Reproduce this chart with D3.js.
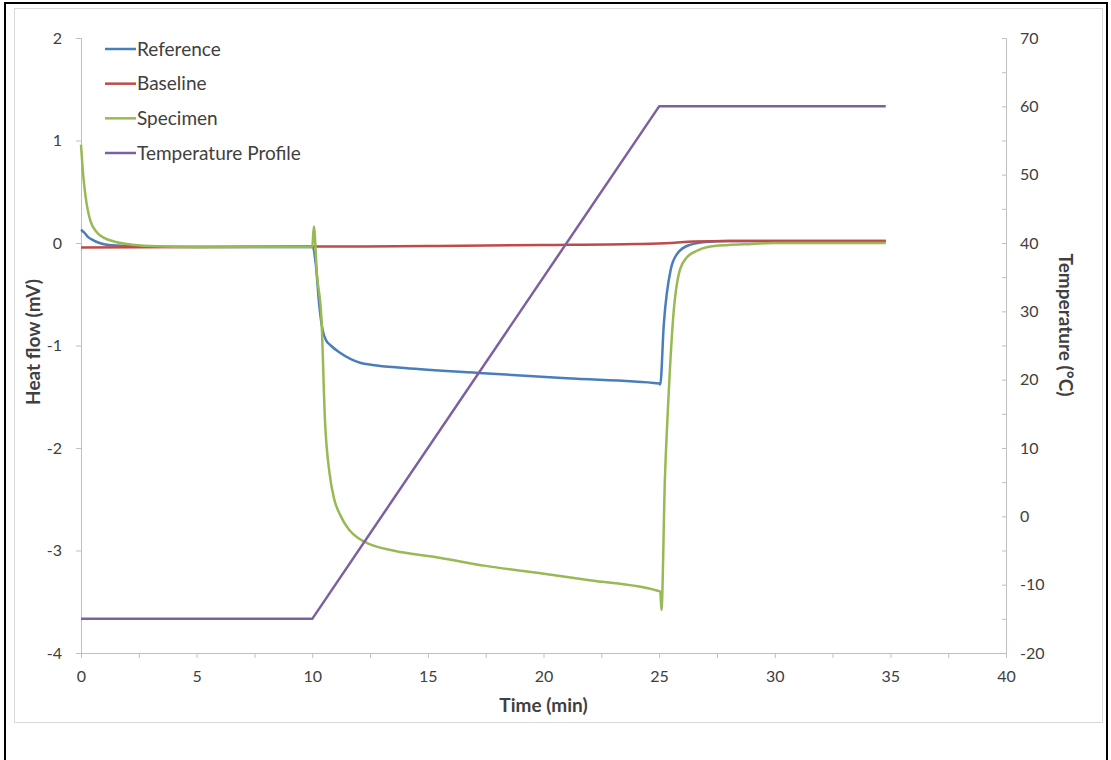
<!DOCTYPE html>
<html>
<head>
<meta charset="utf-8">
<script src="https://cdn.jsdelivr.net/npm/d3@7"></script>
<style>
  body { margin: 0; background: #fff; }
  svg text { font-family: "Lato", "Open Sans", sans-serif; fill: #404040; }
</style>
</head>
<body>
<svg id="chart" width="1111" height="760"></svg>
<script>
// Tempos (min) e valores
const refTime  = [0, 0.15, 0.3, 0.5, 0.8, 1.2, 2, 5, 10.0, 10.15, 10.3, 10.45, 10.6, 10.8, 11.2, 12.1, 12.6, 14.0, 17.4, 21.0, 25.0, 25.05, 25.2, 25.5, 25.8, 26.3, 27.0, 28.0, 34.8];
const refFlow  = [0.13, 0.1, 0.06, 0.03, 0.0, -0.02, -0.03, -0.04, -0.04, -0.2, -0.6, -0.85, -0.95, -1.0, -1.07, -1.17, -1.19, -1.22, -1.27, -1.32, -1.37, -1.38, -0.8, -0.26, -0.1, -0.02, 0.01, 0.02, 0.02];

const baseTime = [0, 5, 10, 15, 20, 24, 25.5, 26.5, 28, 34.8];
const baseFlow = [-0.045, -0.04, -0.035, -0.03, -0.02, -0.01, 0.0, 0.015, 0.02, 0.02];

const specTime = [0, 0.1, 0.2, 0.4, 0.7, 1.0, 1.5, 2.0, 3.0, 5.0, 8.0, 10.0, 10.07, 10.2, 10.4, 10.55, 10.75, 10.95, 11.2, 11.6, 12.0, 12.4, 13.5, 15.5, 17.5, 19.8, 22.0, 24.9, 25.05, 25.1, 25.25, 25.4, 25.6, 25.9, 26.2, 26.6, 27.1, 28.0, 29.0, 30.0, 34.8];
const specFlow = [0.96, 0.65, 0.45, 0.22, 0.1, 0.05, 0.01, -0.01, -0.03, -0.04, -0.04, -0.04, 0.16, -0.3, -0.75, -1.73, -2.25, -2.5, -2.65, -2.8, -2.88, -2.93, -3.0, -3.07, -3.15, -3.22, -3.29, -3.39, -3.4, -3.58, -2.3, -1.53, -0.75, -0.26, -0.14, -0.08, -0.04, -0.02, -0.01, 0, 0];

const tempTime = [0, 10, 25, 34.8];
const tempVal  = [-15, -15, 60, 60];

const seriesNames  = ["Reference", "Baseline", "Specimen", "Temperature Profile"];
const seriesColors = ["#4a7ebb", "#be4b48", "#98b954", "#7d60a0"];

const xTicks = d3.range(0, 41, 5);
const xMinorTicks = d3.range(0, 40.1, 2.5);
const yLeftTicks = d3.range(-4, 3, 1);
const yRightTicks = d3.range(-20, 71, 10);
const yRightMinor = d3.range(-20, 71, 5);

const svg = d3.select("#chart");
const fmt = d => String(d); // hífen comum, sem casas decimais

// Moldura externa e área do gráfico
svg.append("rect")
    .attr("x", 5).attr("y", 3).attr("width", 1102).attr("height", 800)
    .attr("fill", "none").attr("stroke", "#000").attr("stroke-width", 2);
svg.append("rect")
    .attr("x", 14.5).attr("y", 8.5).attr("width", 1088).attr("height", 714)
    .attr("fill", "#fff").attr("stroke", "#d9d9d9").attr("stroke-width", 1);

// Proporções da área de plotagem
const plot = { left: 81, right: 1006, top: 38, bottom: 653 };

const x = d3.scaleLinear().domain([0, 40]).range([plot.left, plot.right]);
const yL = d3.scaleLinear().domain([-4, 2]).range([plot.bottom, plot.top]);
const yR = d3.scaleLinear().domain([-20, 70]).range([plot.bottom, plot.top]);

const axisColor = "#bfbfbf";

// Eixo X
const gx = svg.append("g").attr("transform", `translate(0,${plot.bottom})`);
gx.call(d3.axisBottom(x).tickValues(xMinorTicks).tickSize(5).tickFormat(""));
gx.select(".domain").attr("stroke", axisColor);
gx.selectAll(".tick line").attr("stroke", axisColor);
gx.append("g").call(d3.axisBottom(x).tickValues(xTicks).tickSize(0).tickPadding(18).tickFormat(fmt))
    .call(g => g.select(".domain").remove())
    .selectAll("text")
        .style("font-size", "16px").style("font-family", "Lato, sans-serif").attr("fill", "#404040");

// Eixo Y esquerdo
const gyl = svg.append("g").attr("transform", `translate(${plot.left},0)`);
gyl.call(d3.axisLeft(yL).tickValues(yLeftTicks).tickSize(5).tickPadding(14).tickFormat(fmt));
gyl.select(".domain").attr("stroke", axisColor);
gyl.selectAll(".tick line").attr("stroke", axisColor);
gyl.selectAll("text").style("font-size", "16px").style("font-family", "Lato, sans-serif").attr("fill", "#404040");

// Eixo Y direito
const gyr = svg.append("g").attr("transform", `translate(${plot.right},0)`);
gyr.call(d3.axisLeft(yR).tickValues(yRightMinor).tickSize(4).tickFormat(""));
gyr.select(".domain").attr("stroke", axisColor);
gyr.selectAll(".tick line").attr("stroke", axisColor);
gyr.append("g").call(d3.axisRight(yR).tickValues(yRightTicks).tickSize(0).tickPadding(14).tickFormat(fmt))
    .call(g => g.select(".domain").remove())
    .selectAll("text")
        .style("font-size", "16px").style("font-family", "Lato, sans-serif").attr("fill", "#404040");

// Linhas
const lineL = (ts, vs) => d3.line().curve(d3.curveMonotoneX)
    .x((d, i) => x(ts[i])).y(d => yL(d))(vs);
const lineR = (ts, vs) => d3.line()
    .x((d, i) => x(ts[i])).y(d => yR(d))(vs);

const paths = [
    lineL(refTime, refFlow),
    lineL(baseTime, baseFlow),
    lineL(specTime, specFlow),
    lineR(tempTime, tempVal)
];

svg.append("g").selectAll("path")
    .data(paths)
    .enter()
    .append("path")
        .attr("d", d => d)
        .attr("fill", "none")
        .attr("stroke", (d, i) => seriesColors[i])
        .attr("stroke-width", 2.5)
        .attr("stroke-linejoin", "round");

// Legenda
const legend = svg.append("g");
const legendY = d3.scalePoint().domain(seriesNames).range([49, 153]);
seriesNames.forEach((name, i) => {
    legend.append("line")
        .attr("x1", 105).attr("x2", 136)
        .attr("y1", legendY(name)).attr("y2", legendY(name))
        .attr("stroke", seriesColors[i]).attr("stroke-width", 2.5);
    legend.append("text")
        .attr("x", 137).attr("y", legendY(name))
        .attr("dy", "0.35em")
        .style("font-size", "19px")
        .text(name);
});

// Rótulos dos eixos
svg.append("text")
    .attr("x", (plot.left + plot.right) / 2)
    .attr("y", 712)
    .attr("text-anchor", "middle")
    .style("font-size", "19px").style("font-weight", "bold")
    .attr("fill", "#000")
    .text("Time (min)");

svg.append("text")
    .attr("transform", "rotate(-90)")
    .attr("x", -342).attr("y", 33)
    .attr("dy", "0.35em")
    .attr("text-anchor", "middle")
    .style("font-size", "19px").style("font-weight", "bold")
    .text("Heat flow (mV)");

svg.append("text")
    .attr("transform", "rotate(90)")
    .attr("x", 325).attr("y", -1066)
    .attr("dy", "0.35em")
    .attr("text-anchor", "middle")
    .style("font-size", "19px").style("font-weight", "bold")
    .text("Temperature (°C)");
</script>
</body>
</html>
